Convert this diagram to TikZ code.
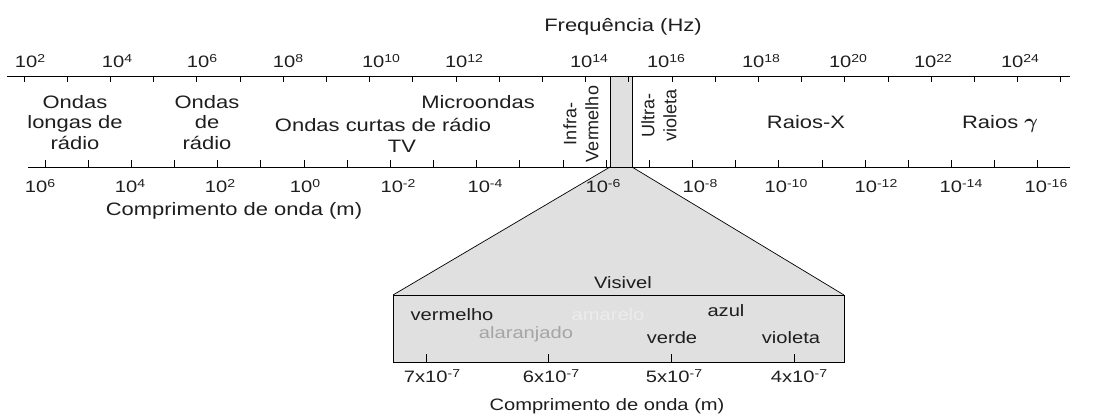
\documentclass[tikz,border=0pt]{standalone}
\usepackage{fontspec}
\setmainfont{Liberation Sans}[FakeStretch=1.22]
\newfontfamily\rotfont{Liberation Sans}
\usepackage{amsmath}
\newcommand\supx[1]{\raisebox{5pt}{\fontsize{11.5}{11.5}\selectfont #1}}
\newcommand\tpow[1]{10\supx{#1}}
\definecolor{bandgray}{RGB}{224,224,224}
\definecolor{lightlab}{RGB}{236,236,236}
\definecolor{midlab}{RGB}{165,165,165}
\definecolor{ink}{RGB}{30,30,30}
\begin{document}
\begin{tikzpicture}[x=1pt,y=-1pt,
  lab/.style={inner sep=0pt, anchor=base, align=center, text=ink, font=\fontsize{18}{20.5}\selectfont},
  axl/.style={inner sep=0pt, anchor=base, text=ink, font=\fontsize{16.5}{18}\selectfont},
  boxl/.style={inner sep=0pt, anchor=base, text=ink, font=\fontsize{16.5}{19}\selectfont},
  rotl/.style={inner sep=0pt, rotate=90, align=center, text=ink, font=\rotfont\fontsize{18}{22}\selectfont},
  axis/.style={line width=1pt},
  tick/.style={line width=0.9pt},
  edge/.style={line width=0.7pt}]
\useasboundingbox (0,0) rectangle (1110,415);

% coordinates
\coordinate (tl) at (7,76);   \coordinate (tr) at (1070,76);
\coordinate (bl) at (28,167); \coordinate (br) at (1070,167);
\coordinate (bandTL) at (610,76);  \coordinate (bandTR) at (632,76);
\coordinate (bandBL) at (610,167); \coordinate (bandBR) at (632,167);
\coordinate (boxTL) at (393,295);  \coordinate (boxTR) at (844,295);
\coordinate (boxBL) at (393,362);  \coordinate (boxBR) at (844,362);

% zoom trapezoid
\fill[bandgray] (bandBL) -- (boxTL) -- (boxTR) -- (bandBR) -- cycle;
\draw[edge] (bandBL) -- (boxTL);
\draw[edge] (bandBR) -- (boxTR);
% visible box
\draw[axis, fill=bandgray] (boxTL) rectangle (boxBR);
\foreach \x in {426,548,671,794} \draw[tick] (\x,362) -- ++(0,-8);

% band
\fill[bandgray] (bandTL) rectangle (bandBR);
\draw[axis] (bandTL) -- (bandBL);
\draw[axis] (bandTR) -- (bandBR);

% axes
\draw[axis] (tl) -- (tr);
\foreach \k in {0,...,24} \draw[tick] (24+43.2*\k,76) -- ++(0,6);
\draw[axis] (bl) -- (br);
\foreach \k in {0,...,23} \draw[tick] (45+43.17*\k,167) -- ++(0,-7);

% titles
\node[lab] (freq) at (623,31) {Frequência (Hz)};
\node[lab] (wl1) at (234,215) {Comprimento de onda (m)};

% top axis labels
\foreach \x/\e in {30/2,117/4,202/6,288/8,381/10,464/12,589/14,666/16,761/18,848/20,933/22,1020/24}
  \node[axl] (f\e) at (\x,67) {\tpow{\e}};
% bottom axis labels
\foreach \x/\e [count=\i] in {40/6,130/4,220/2,305/0,398/-2,485/-4,603/-6,700/-8,786/-10,876/-12,961/-14,1046/-16}
  \node[axl] (w\i) at (\x,192) {\tpow{\e}};

% region labels
\node[lab] (olr1) at (75,108) {Ondas};
\node[lab] (olr2) at (75,128.5) {longas de};
\node[lab] (olr3) at (75,149) {rádio};
\node[lab] (or1) at (207,108) {Ondas};
\node[lab] (or2) at (207,128.5) {de};
\node[lab] (or3) at (207,149) {rádio};
\node[lab] (micro) at (478,108) {Microondas};
\node[lab] (curtas) at (383,131) {Ondas curtas de rádio};
\node[lab] (tv) at (402,152) {TV};
\node[rotl] (ir) at (581,124) {Infra-\\Vermelho};
\node[rotl] (uv) at (659,115) {Ultra-\\violeta};
\node[lab] (rx) at (806,128) {Raios-X};
\node[lab] (rg) at (1000,128) {Raios {\fontsize{22}{22}\selectfont$\boldsymbol{\gamma}$}};

% visible box labels
\node[boxl] (vis) at (623,288) {Visivel};
\node[boxl] (verm) at (452,320) {vermelho};
\node[boxl, text=lightlab] (amar) at (608,320) {amarelo};
\node[boxl] (azul) at (726,316) {azul};
\node[boxl, text=midlab] (alar) at (526,338) {alaranjado};
\node[boxl] (verde) at (672,343) {verde};
\node[boxl] (viol) at (791,343) {violeta};
\foreach \x/\m [count=\i] in {432/7,551/6,674/5,799/4}
  \node[boxl] (v\i) at (\x,382) {\m x\tpow{-7}};
\node[boxl] (wl2) at (607,410) {Comprimento de onda (m)};
\end{tikzpicture}
\end{document}
